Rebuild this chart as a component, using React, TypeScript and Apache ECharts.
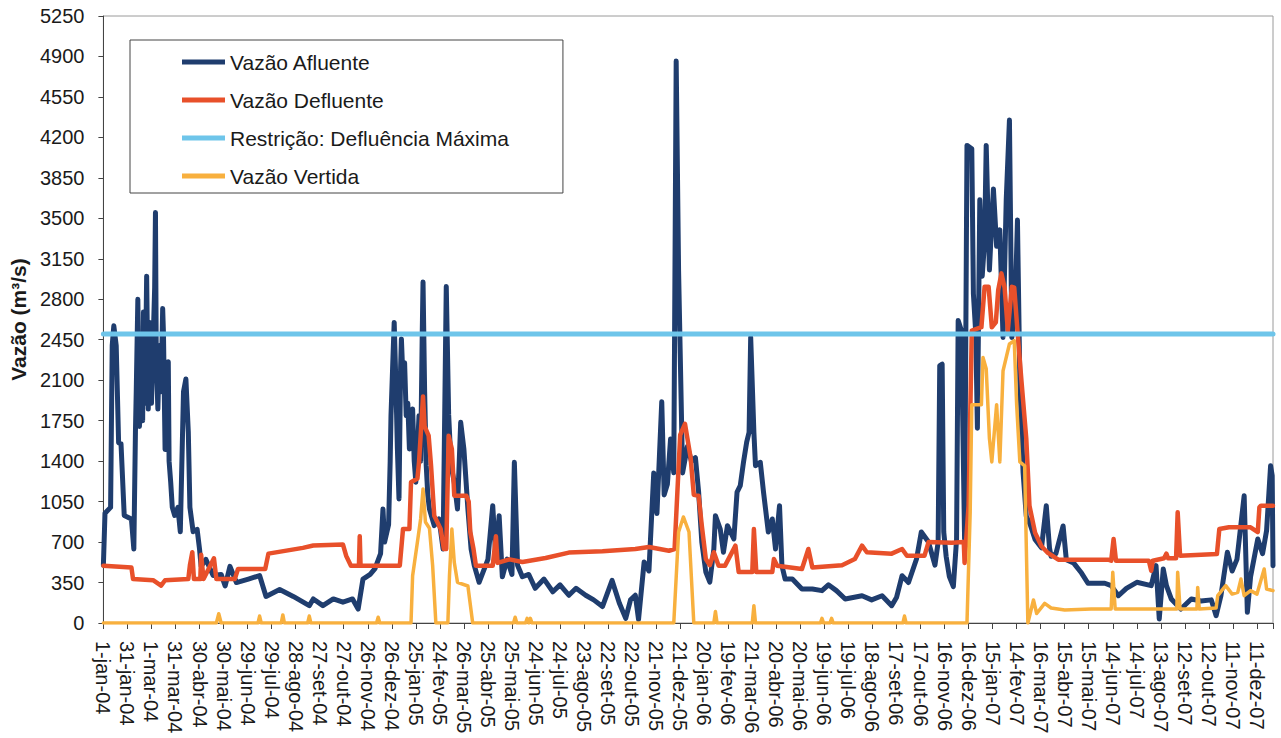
import React, { useEffect, useRef } from "react";
import * as echarts from "echarts";

// Tick labels every 30 days starting at 1-jan-04 (day 0)
const tickLabels: string[] = [
  "1-jan-04", "31-jan-04", "1-mar-04", "31-mar-04", "30-abr-04", "30-mai-04", "29-jun-04", "29-jul-04",
  "28-ago-04", "27-set-04", "27-out-04", "26-nov-04", "26-dez-04", "25-jan-05", "24-fev-05", "26-mar-05",
  "25-abr-05", "25-mai-05", "24-jun-05", "24-jul-05", "23-ago-05", "22-set-05", "22-out-05", "21-nov-05",
  "21-dez-05", "20-jan-06", "19-fev-06", "21-mar-06", "20-abr-06", "20-mai-06", "19-jun-06", "19-jul-06",
  "18-ago-06", "17-set-06", "17-out-06", "16-nov-06", "16-dez-06", "15-jan-07", "14-fev-07", "16-mar-07",
  "15-abr-07", "15-mai-07", "14-jun-07", "14-jul-07", "13-ago-07", "12-set-07", "12-out-07", "11-nov-07",
  "11-dez-07",
];

const seriesNames: string[] = [
  "Vazão Afluente",
  "Vazão Defluente",
  "Restrição: Defluência Máxima",
  "Vazão Vertida",
];

// [day since 1-jan-04, m³/s]
const afluente: [number, number][] = [
  [0, 500], [2, 950], [9, 1000], [11, 2400], [13, 2570], [16, 2400], [19, 1560], [22, 1550], [26, 930],
  [35, 900], [38, 640], [40, 1650], [41, 2000], [43, 2800], [45, 1700], [47, 2400], [49, 1750], [50, 2690],
  [52, 1900], [54, 3000], [56, 1850], [58, 2600], [60, 1900], [62, 2400], [64, 2900], [65, 3550], [66, 2300],
  [68, 1850], [70, 2400], [72, 2000], [74, 2720], [75, 2500], [77, 1500], [79, 1700], [81, 2260], [82, 1400],
  [84, 1220], [86, 1000], [89, 930], [93, 1000], [96, 790], [100, 2000], [103, 2110], [106, 1650],
  [108, 1000], [112, 790], [117, 810], [120, 640], [122, 490], [128, 550], [137, 410], [147, 420], [152, 320],
  [158, 490], [166, 350], [181, 380], [195, 410], [203, 230], [220, 290], [237, 230], [257, 150], [262, 208],
  [274, 150], [287, 208], [299, 180], [311, 208], [318, 121], [324, 380], [333, 420], [339, 470], [346, 600],
  [349, 986], [351, 700], [356, 850], [358, 1400], [359, 1793], [361, 2200], [363, 2600], [365, 2100],
  [367, 1505], [369, 1073], [371, 2200], [372, 2457], [374, 2100], [376, 2250], [378, 1793], [380, 1900],
  [382, 1505], [384, 1700], [386, 1850], [388, 1400], [390, 1218], [392, 1500], [394, 1793], [396, 1400],
  [398, 2500], [399, 2950], [401, 2000], [403, 1361], [405, 1100], [407, 986], [413, 842], [419, 900],
  [424, 640], [428, 2910], [431, 1800], [434, 1361], [438, 1218], [442, 986], [446, 1736], [450, 1505],
  [455, 986], [459, 640], [463, 496], [469, 352], [480, 550], [486, 1015], [490, 550], [494, 928], [498, 400],
  [504, 553], [510, 420], [513, 1390], [517, 500], [523, 400], [531, 420], [539, 300], [550, 380], [561, 270],
  [570, 330], [581, 240], [590, 300], [602, 240], [612, 200], [623, 142], [635, 368], [644, 173], [652, 40],
  [658, 200], [664, 240], [668, 30], [675, 528], [681, 450], [687, 1298], [691, 947], [697, 1914], [700, 1108],
  [704, 1200], [708, 1592], [712, 1300], [715, 4860], [718, 3045], [723, 1298], [729, 1527], [734, 1400],
  [739, 1431], [743, 1133], [747, 700], [752, 441], [757, 354], [762, 640], [764, 928], [770, 813], [774, 612],
  [779, 842], [787, 727], [791, 1133], [795, 1188], [799, 1390], [803, 1565], [806, 1650], [808, 2471],
  [812, 1650], [814, 1361], [820, 1390], [824, 1133], [830, 787], [835, 900], [839, 640], [844, 1015],
  [847, 496], [851, 380], [860, 380], [872, 294], [885, 294], [897, 280], [905, 330], [915, 280], [926, 208],
  [947, 236], [959, 200], [972, 236], [984, 150], [990, 220], [997, 409], [1005, 350], [1015, 553],
  [1021, 787], [1030, 700], [1038, 500], [1042, 700], [1044, 2226], [1047, 2238], [1049, 787], [1052, 577],
  [1056, 402], [1061, 315], [1065, 723], [1067, 2617], [1071, 2529], [1075, 727], [1078, 4131], [1084, 4102],
  [1086, 2849], [1089, 2500], [1091, 1684], [1094, 3660], [1097, 3000], [1100, 3300], [1102, 4131],
  [1106, 3053], [1111, 3754], [1115, 3258], [1119, 3400], [1123, 2470], [1127, 3660], [1131, 4350],
  [1134, 2470], [1138, 2700], [1141, 3485], [1144, 2093], [1148, 1306], [1152, 926], [1157, 850], [1163, 723],
  [1171, 650], [1177, 1014], [1181, 650], [1183, 577], [1189, 600], [1198, 839], [1202, 548], [1211, 520],
  [1221, 432], [1229, 344], [1250, 344], [1258, 323], [1267, 236], [1277, 300], [1290, 352], [1308, 323],
  [1314, 496], [1318, 35], [1323, 467], [1327, 323], [1333, 208], [1345, 121], [1358, 208], [1370, 190],
  [1383, 200], [1389, 63], [1395, 236], [1403, 612], [1409, 450], [1415, 550], [1424, 1101], [1428, 92],
  [1432, 400], [1441, 727], [1447, 600], [1452, 800], [1457, 1361], [1459, 1274], [1460, 496],
];

const defluente: [number, number][] = [
  [0, 496], [35, 480], [37, 380], [62, 370], [72, 323], [77, 370], [106, 380], [108, 500], [111, 612],
  [113, 380], [121, 380], [122, 590], [125, 380], [138, 560], [141, 380], [164, 380], [168, 467], [202, 467],
  [206, 600], [249, 650], [262, 670], [299, 680], [303, 582], [309, 496], [319, 496], [320, 750], [321, 496],
  [370, 496], [374, 813], [382, 813], [384, 1217], [392, 1250], [394, 1390], [399, 1960], [401, 1700],
  [406, 1620], [409, 1361], [413, 928], [421, 813], [425, 640], [428, 640], [431, 1620], [435, 1505],
  [438, 1101], [453, 1101], [456, 1050], [458, 787], [462, 640], [465, 496], [486, 496], [490, 750],
  [492, 520], [507, 550], [523, 528], [552, 562], [581, 609], [623, 620], [664, 640], [681, 657], [706, 625],
  [713, 640], [720, 1626], [726, 1722], [733, 1431], [737, 1108], [743, 1100], [747, 842], [752, 553],
  [757, 500], [762, 612], [768, 496], [776, 496], [789, 669], [793, 441], [810, 441], [812, 813], [815, 441],
  [835, 441], [837, 553], [841, 496], [872, 467], [880, 640], [885, 480], [922, 500], [938, 553], [947, 669],
  [953, 612], [984, 600], [997, 640], [1003, 582], [1025, 582], [1030, 700], [1059, 695], [1074, 700],
  [1075, 519], [1080, 1014], [1084, 2529], [1096, 2558], [1100, 2908], [1105, 2908], [1109, 2558],
  [1114, 2600], [1117, 2880], [1121, 3024], [1125, 2900], [1129, 2529], [1134, 2908], [1137, 2900],
  [1141, 2529], [1146, 2093], [1152, 1597], [1156, 1014], [1163, 781], [1171, 664], [1179, 606], [1192, 548],
  [1254, 548], [1258, 539], [1261, 727], [1264, 539], [1305, 539], [1308, 452], [1310, 539], [1324, 560],
  [1327, 600], [1329, 560], [1339, 560], [1341, 958], [1344, 582], [1390, 597], [1393, 813], [1405, 828],
  [1432, 828], [1441, 787], [1443, 1000], [1445, 1015], [1460, 1015],
];

const restricao: [number, number][] = [
  [0, 2500], [1460, 2500],
];

const vertida: [number, number][] = [
  [0, 0], [141, 0], [144, 80], [147, 0], [193, 0], [195, 60], [197, 0], [222, 0], [224, 70], [226, 0],
  [255, 0], [257, 60], [259, 0], [341, 0], [343, 50], [345, 0], [384, 0], [386, 409], [392, 700], [396, 900],
  [399, 1159], [402, 874], [407, 820], [411, 496], [415, 0], [430, 0], [432, 409], [435, 813], [438, 525],
  [442, 352], [455, 320], [461, 0], [512, 0], [514, 50], [516, 0], [527, 0], [529, 40], [531, 0], [533, 40],
  [535, 0], [712, 0], [718, 787], [724, 917], [731, 787], [737, 0], [762, 0], [764, 100], [766, 0], [810, 0],
  [812, 150], [814, 0], [895, 0], [897, 40], [899, 0], [907, 0], [909, 40], [911, 0], [998, 0], [1000, 60],
  [1002, 0], [1078, 0], [1082, 956], [1084, 1888], [1096, 1888], [1098, 2296], [1102, 2200], [1106, 1597],
  [1109, 1393], [1115, 1888], [1119, 1393], [1123, 2180], [1131, 2413], [1137, 2442], [1140, 1888],
  [1144, 1393], [1150, 1360], [1154, 0], [1161, 199], [1165, 82], [1175, 170], [1183, 130], [1200, 112],
  [1233, 121], [1258, 121], [1260, 438], [1263, 121], [1340, 121], [1341, 438], [1344, 121], [1365, 121],
  [1366, 308], [1368, 121], [1389, 130], [1391, 236], [1401, 323], [1409, 250], [1416, 265], [1420, 380],
  [1424, 236], [1432, 280], [1440, 250], [1449, 467], [1452, 294], [1460, 280],
];

const colors = ["#1F3D6E", "#E8502A", "#6EC5EA", "#F8B03E"];
const widths = [5, 4.5, 5, 3.5];
const FONT = "Arial, 'Liberation Sans', sans-serif";

export default function App() {
  const ref = useRef<HTMLDivElement>(null);
  useEffect(() => {
    if (!ref.current) return;
    const chart = echarts.init(ref.current, undefined, { renderer: "svg" });
    const datasets = [afluente, defluente, restricao, vertida];
    chart.setOption({
      animation: false,
      backgroundColor: "#ffffff",
      textStyle: { fontFamily: FONT },
      grid: {
        left: 101,
        right: 8,
        top: 16,
        bottom: 115,
        show: true,
        borderColor: "#9a9a9a",
        borderWidth: 1,
      },
      legend: {
        orient: "vertical",
        left: 130,
        top: 40,
        padding: [10, 54, 5, 52],
        itemGap: 14,
        itemWidth: 43,
        itemHeight: 5,
        icon: "rect",
        borderColor: "#444",
        borderWidth: 1,
        backgroundColor: "#ffffff",
        textStyle: { fontSize: 21, color: "#1a1a1a", fontFamily: FONT, lineHeight: 24 },
        data: seriesNames,
      },
      xAxis: {
        type: "value",
        min: 0,
        max: 1460,
        interval: 30,
        axisLine: { show: true, lineStyle: { color: "#444", width: 1 } },
        axisTick: { show: true, length: 6, lineStyle: { color: "#444" } },
        splitLine: { show: false },
        axisLabel: {
          rotate: -90,
          fontSize: 20,
          margin: 18,
          color: "#1a1a1a",
          fontFamily: FONT,
          formatter: (v: number) => (v % 30 === 0 && tickLabels[v / 30] ? tickLabels[v / 30] : ""),
        },
      },
      yAxis: {
        type: "value",
        min: 0,
        max: 5250,
        interval: 350,
        name: "Vazão (m³/s)",
        nameLocation: "middle",
        nameGap: 58,
        nameRotate: 90,
        nameTextStyle: { fontSize: 21, fontWeight: "bold", color: "#1a1a1a", fontFamily: FONT },
        axisLine: { show: true, lineStyle: { color: "#444", width: 1 } },
        axisTick: { show: true, length: 5, lineStyle: { color: "#444" } },
        splitLine: { show: false },
        axisLabel: {
          fontSize: 20,
          margin: 19,
          color: "#1a1a1a",
          fontFamily: FONT,
          formatter: (v: number) => String(v),
        },
      },
      series: datasets.map((d, i) => ({
        name: seriesNames[i],
        type: "line",
        data: d,
        symbol: "none",
        color: colors[i],
        lineStyle: { color: colors[i], width: widths[i], cap: "round", join: "round" },
        z: 2 + i,
      })),
    });
    return () => chart.dispose();
  }, []);
  return (
    <div
      ref={ref}
      style={{ position: "fixed", left: 0, top: 0, width: 1281, height: 738, background: "#fff" }}
    />
  );
}
